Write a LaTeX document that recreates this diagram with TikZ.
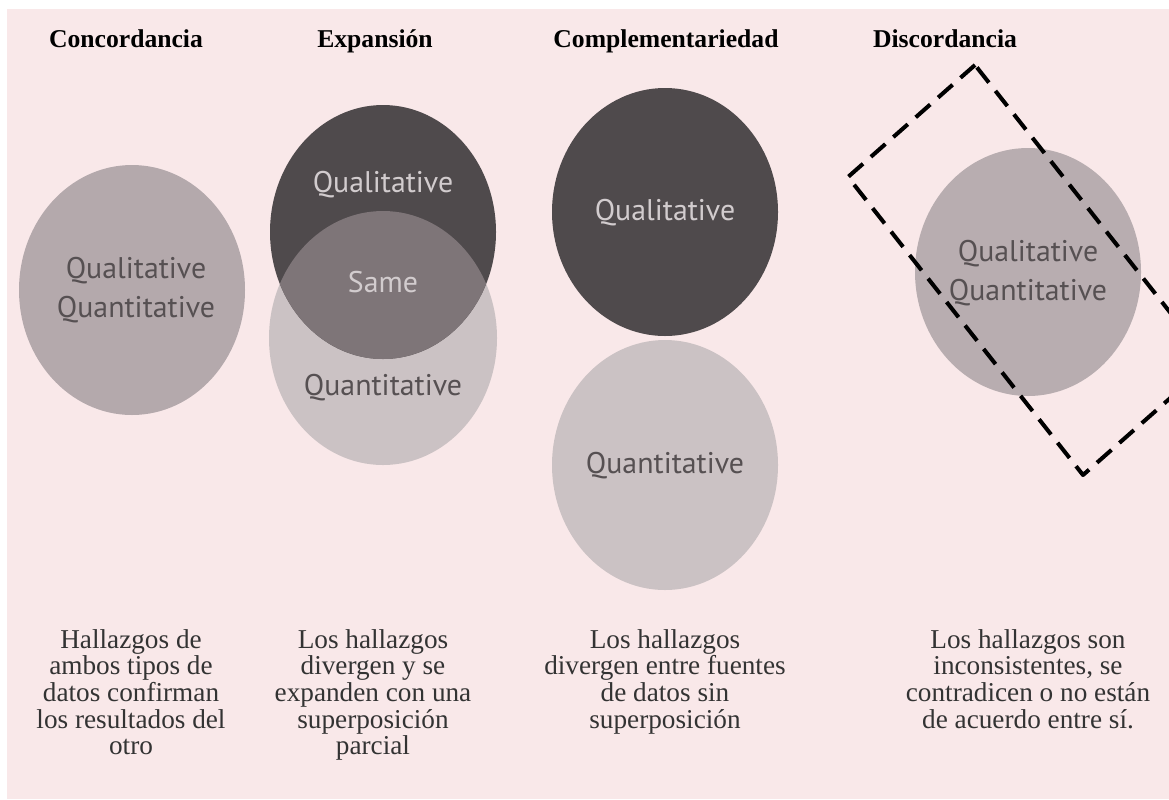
\documentclass[tikz,border=0pt]{standalone}
\usepackage{fontspec}
\setmainfont{Liberation Serif}
\newfontfamily\dinfont{PT Sans}

\definecolor{bgpink}{HTML}{F9E8E9}
\definecolor{concgray}{HTML}{B4A9AC}
\definecolor{darkgray}{HTML}{4F4A4C}
\definecolor{midgray}{HTML}{7E7578}
\definecolor{lightgray}{HTML}{CBC2C4}
\definecolor{discgray}{HTML}{B8ADB0}
\definecolor{lbldark}{HTML}{565052}
\definecolor{lbllight}{HTML}{D2CCCE}

\tikzset{
  title/.style={anchor=base, font=\bfseries\fontsize{14.6}{16}\selectfont},
  desc/.style={anchor=north, align=center, font=\fontsize{15.5}{15.2}\selectfont, text=black!80},
  lbl/.style={align=center, font=\dinfont\fontsize{17}{22.6}\selectfont, text=lbldark},
  lbllt/.style={lbl, text=lbllight}
}

\begin{document}
\begin{tikzpicture}[x=0.02cm, y=-0.02cm]
    \useasboundingbox (0,0) rectangle (1169,799);
    \fill [bgpink] (7,9) rectangle (1169,799);

    % titles
    \node [title] (tconc) at (126,47) {Concordancia};
    \node [title] (texp) at (375,47) {Expansión};
    \node [title] (tcomp) at (666,47) {Complementariedad};
    \node [title] (tdisc) at (945,47) {Discordancia};

    % circles
    \fill [concgray] (132,290) ellipse [x radius=113, y radius=125];
    \fill [lightgray] (383,338) ellipse [x radius=114, y radius=127];
    \fill [darkgray] (383,232) ellipse [x radius=113, y radius=127];
    \begin{scope}
      \clip (383,232) ellipse [x radius=113, y radius=127];
      \fill [midgray] (383,338) ellipse [x radius=114, y radius=127];
    \end{scope}
    \fill [darkgray] (665,212) ellipse [x radius=113, y radius=124];
    \fill [lightgray] (665,465) ellipse [x radius=113, y radius=125];
    \fill [discgray] (1028,272) ellipse [x radius=113, y radius=124];

    % circle labels
    \node [lbl] (conc) at (136,290) {Qualitative\\Quantitative};
    \node [lbllt] (expql) at (383,185) {Qualitative};
    \node [lbllt] (expsame) at (383,282) {Same};
    \node [lbl] (expqn) at (383,388) {Quantitative};
    \node [lbllt] (compql) at (665,213) {Qualitative};
    \node [lbl] (compqn) at (665,466) {Quantitative};
    \node [lbl] (disc) at (1028,273) {Qualitative\\Quantitative};

    % tilted box
    \begin{scope}
      \clip (0,0) rectangle (1169,799);
      \draw [dashed, line width=2.3pt, dash pattern=on 11pt off 6pt, line join=round]
        (975,65) -- (848,177) -- (1083,475) -- (1210,363) -- cycle;
    \end{scope}

    % descriptions
    \node [desc] (dconc) at (131,623) {Hallazgos de\\ambos tipos de\\datos confirman\\los resultados del\\otro};
    \node [desc] (dexp) at (373,623) {Los hallazgos\\divergen y se\\expanden con una\\superposición\\parcial};
    \node [desc] (dcomp) at (665,623) {Los hallazgos\\divergen entre fuentes\\de datos sin\\superposición};
    \node [desc] (ddisc) at (1028,623) {Los hallazgos son\\inconsistentes, se\\contradicen o no están\\de acuerdo entre sí.};
\end{tikzpicture}
\end{document}
